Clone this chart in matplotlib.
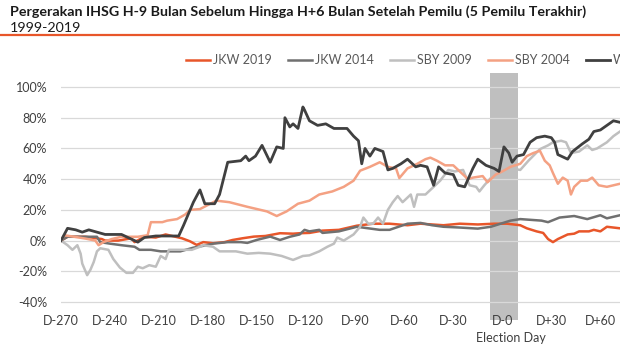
import numpy as np
import matplotlib.pyplot as plt
from matplotlib.transforms import blended_transform_factory

plt.rcParams['font.family'] = ['Lato', 'DejaVu Sans']

# days relative to election day, return in %
jkw19_d = [-270, -266, -255, -245, -243, -235, -227, -225, -219, -212, -206, -200, -196, -191, -187,
           -183, -177, -170, -165, -159, -152, -145, -136, -128, -124, -118, -110, -100, -89, -79,
           -69, -58, -50, -36, -26, -15, -5, 3, 11, 15, 21, 25, 28, 31, 34, 40, 44, 47, 53, 56,
           60, 64, 72]
jkw19_v = [0, 2.5, 2.5, 1, 0, 0, 1.5, -1, 2.5, 2, 4, 2.5, 1.5, -0.5, -2.8,
           -1, -1.7, -1, 0.4, 1.5, 2.6, 3, 4.8, 4.5, 4.8, 5, 6.5, 7, 9.7, 11,
           11, 10, 11, 10, 11, 10.5, 11, 11, 10, 8, 6, 5, 1, -1, 1, 4, 4.5, 6, 6, 7,
           6, 9, 8]

jkw14_d = [-270, -266, -248, -246, -240, -233, -225, -222, -215, -209, -197, -189, -181, -177,
           -168, -160, -156, -150, -142, -136, -130, -124, -121, -118, -112, -110, -100, -89,
           -75, -69, -58, -50, -43, -36, -26, -15, -7, -1, 5, 11, 24, 28, 35, 44, 52, 60, 64,
           70, 72]
jkw14_v = [0, 2.5, 2.5, -1, -2, -3, -4, -6, -6, -7, -7, -4.6, -3, -2,
           -1, -1, -1.5, 0.5, 2.6, 0.4, 2.5, 4, 7, 6, 7, 5, 6, 9,
           7, 7, 11, 11.5, 10, 9, 8.5, 7.8, 9, 11, 13, 14, 13, 12, 15, 16, 14, 16.5, 14.5,
           16, 16.5]

sby09_d = [-270, -266, -263, -260, -258, -257, -254, -252, -250, -248, -246, -241, -238, -234,
           -230, -226, -223, -220, -216, -212, -209, -206, -204, -195, -190, -185, -183, -177,
           -173, -163, -156, -149, -142, -135, -128, -122, -118, -112, -107, -103, -101, -97,
           -91, -87, -85, -82, -79, -76, -73, -70, -67, -64, -61, -56, -54, -52, -47, -44, -38,
           -33, -29, -24, -20, -16, -14, -11, -6, 0, 5, 11, 16, 23, 28, 31, 36, 39, 42, 47, 52,
           55, 58, 64, 68, 72]
sby09_v = [0, -3, -6, -3, -8.5, -15, -22.5, -19, -14, -7, -5, -6, -12, -17.5,
           -21, -21, -17, -18, -16, -17, -10, -12, -6, -6, -6, -4, -3, -4,
           -7, -7, -8.5, -8, -8.5, -10, -12.6, -10, -9.6, -7, -4, -2, 2, 0,
           4, 9, 15, 11, 11, 15, 11, 20, 25, 29, 25, 30, 22, 30, 30, 33, 39,
           46, 45, 46, 36, 35, 32, 36, 42, 45, 47, 46, 52, 59.5, 62, 64, 65, 64, 57, 58, 62,
           59, 60, 64, 68, 71]

sby04_d = [-270, -268, -262, -255, -249, -247, -244, -239, -233, -223, -217, -215, -208, -205,
           -199, -194, -191, -185, -175, -167, -156, -144, -138, -132, -125, -118, -112, -104,
           -97, -91, -87, -81, -75, -70, -65, -63, -58, -52, -47, -44, -40, -35, -30, -26, -21,
           -18, -12, -9, -4, 0, 5, 11, 15, 19, 23, 26, 29, 31, 34, 37, 40, 42, 44, 48, 52, 55,
           59, 64, 68, 72]
sby04_v = [0, 3.5, 2.5, 1.3, 0, -3, -1, 1, 2.5, 2.5, 3.5, 12, 12, 13,
           14, 17, 20, 20.5, 26, 25, 22, 19, 16, 19, 24, 26, 30, 32,
           35, 39, 45.5, 48, 51, 48, 47, 40.7, 47, 50, 53, 54, 52, 49, 49, 45, 40,
           41, 42, 38, 43, 45, 48, 50, 55, 57, 58.5, 52, 49, 44, 37, 41, 39, 30, 35, 39, 39, 41,
           36, 35, 36, 37]

w99_d = [-270, -266, -261, -257, -253, -243, -233, -227, -223, -219, -212, -198, -195, -189,
         -185, -182, -176, -173, -168, -160, -157, -155, -151, -147, -142, -138, -134, -133,
         -130, -128, -125, -122, -121, -118, -113, -108, -103, -95, -91, -88, -86, -84, -81,
         -78, -73, -70, -67, -62, -58, -53, -50, -46, -42, -39, -35, -30, -27, -23, -18, -15,
         -10, -5, -2, 1, 4, 6, 9, 13, 17, 21, 26, 30, 32, 34, 40, 43, 49, 53, 56, 60, 64, 68,
         72]
w99_v = [0, 8, 7, 5.5, 7, 4, 4, 1, -1, 2, 3, 3, 10, 25,
         33, 24, 24, 30, 51, 52, 55, 52, 55, 62, 51, 61, 60, 80,
         74, 76, 73, 87, 85, 78, 75, 76, 73, 73, 68, 65, 50, 60, 55,
         60, 58, 46, 47, 50, 53, 48, 49, 48, 36, 48, 44, 43, 36, 35, 47, 53,
         49, 47, 45, 61, 57, 51, 55, 56, 64, 67, 68, 67, 64, 56, 53, 58, 63, 66, 71, 72, 75, 78,
         77]

series = [
    ('JKW 2019', jkw19_d, jkw19_v, '#E8562A', 1.8),
    ('JKW 2014', jkw14_d, jkw14_v, '#707070', 1.8),
    ('SBY 2009', sby09_d, sby09_v, '#BFBFBF', 1.8),
    ('SBY 2004', sby04_d, sby04_v, '#F4A183', 1.8),
    ('WAHID 1999', w99_d, w99_v, '#404040', 2.0),
]

xticks = [-270, -240, -210, -180, -150, -120, -90, -60, -30, 0, 30, 60]
xlabels = ['D-270', 'D-240', 'D-210', 'D-180', 'D-150', 'D-120', 'D-90', 'D-60', 'D-30',
           'D-0', 'D+30', 'D+60']
yticks = [-40, -20, 0, 20, 40, 60, 80, 100]

fig = plt.figure(figsize=(6.2, 3.47), dpi=100)
# plot area runs off the right edge of the figure
ax = fig.add_axes([0.0984, 0.1207, 0.949, 0.6375])
ax.set_xlim(-270, 90)
ax.set_ylim(-42, 102)

ax.axvspan(-7.3, 9.8, ymin=-0.067, ymax=1.049, color='#BFBFBF', lw=0, zorder=0.5,
           clip_on=False)
for y in yticks:
    ax.axhline(y, color='#D9D9D9', lw=0.9, zorder=1)

for i, (name, d, v, c, lw) in enumerate(series):
    ax.plot(d, v, color=c, lw=lw, label=name, zorder=2 + i, solid_joinstyle='round')

for s in ax.spines.values():
    s.set_visible(False)
ax.set_xticks(xticks)
ax.set_xticklabels(xlabels)
ax.set_yticks(yticks)
ax.set_yticklabels([f'{y}%' for y in yticks])
ax.tick_params(length=0, labelsize=9, labelcolor='#404040')
ax.tick_params(axis='y', pad=10)
ax.tick_params(axis='x', pad=7)

trans = blended_transform_factory(ax.transData, fig.transFigure)
ax.text(5, 0.026, 'Election Day', transform=trans, ha='center', va='center',
        fontsize=9, color='#404040')

fig.legend(loc='center left', bbox_to_anchor=(0.292, 1 - 60 / 347), ncol=5, frameon=False,
           fontsize=9, handlelength=1.9, handletextpad=0.25, columnspacing=1.3,
           labelcolor='#595959', borderaxespad=0)

fig.text(10 / 620, 1 - 12 / 347,
         'Pergerakan IHSG H-9 Bulan Sebelum Hingga H+6 Bulan Setelah Pemilu (5 Pemilu Terakhir)',
         fontsize=10.3, fontweight='bold', color='#1A1A1A', va='center')
fig.text(10 / 620, 1 - 27.5 / 347, '1999-2019', fontsize=10.3, color='#1A1A1A', va='center')
fig.add_artist(plt.Line2D([0, 1], [1 - 35 / 347, 1 - 35 / 347], transform=fig.transFigure,
                          color='#E8562A', lw=1.6))

fig.savefig('out.png', dpi=100)
